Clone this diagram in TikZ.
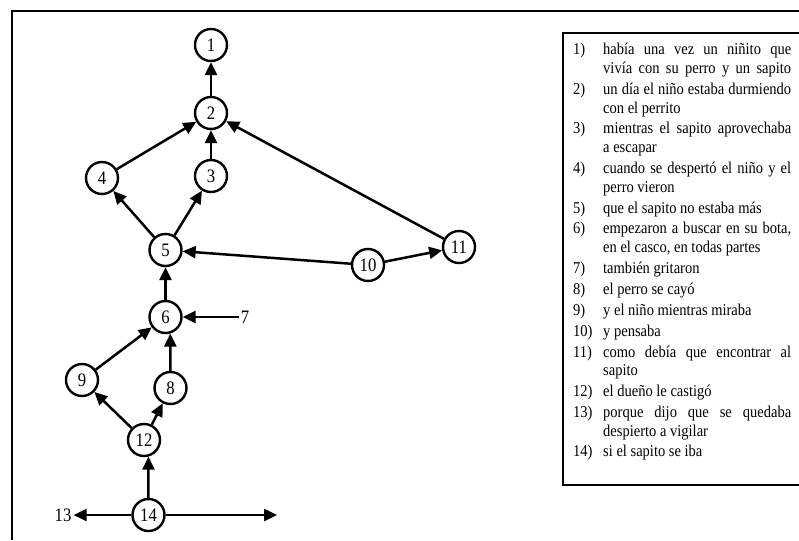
\documentclass[tikz,border=0pt]{standalone}
\usepackage{fontspec}
\setmainfont{Liberation Serif}
\newfontfamily\stretchfont[FakeStretch=0.88]{Liberation Serif}
\newfontfamily\legfont[FakeStretch=0.88]{Liberation Serif}
\usetikzlibrary{arrows.meta}
\newcommand{\jl}[1]{\makebox[188pt][s]{#1}}
\begin{document}
\begin{tikzpicture}[x=1pt,y=-1pt,
  st/.style={circle,draw,line width=2.4pt,minimum size=32pt,inner sep=0pt,font=\stretchfont\fontsize{19}{19}\selectfont},
  lbl/.style={inner sep=2pt,font=\stretchfont\fontsize{19}{19}\selectfont},
  arr/.style={line width=2.5pt,-{Triangle[length=13pt,width=12pt]}},
  frame/.style={line width=1.7pt},
  leg/.style={anchor=base west,inner sep=0pt,font=\legfont\fontsize{16.5}{16.5}\selectfont},
]
\useasboundingbox (0,0) rectangle (799,540);
% outer frame
\draw[frame] (799,11) -- (12,11) -- (12,540);
% legend box
\draw[frame] (799,33) -- (563,33) -- (563,485) -- (799,485);

% graph nodes
\node[st] (n1) at (211,45) {1};
\node[st] (n2) at (211,113) {2};
\node[st] (n3) at (211,176) {3};
\node[st] (n4) at (102,178) {4};
\node[st] (n5) at (165.5,250) {5};
\node[st] (n10) at (368,265) {10};
\node[st] (n11) at (459,247) {11};
\node[st] (n6) at (165.5,317) {6};
\node[lbl] (n7) at (245,317) {7};
\node[st] (n9) at (82,380) {9};
\node[st] (n8) at (170.5,388) {8};
\node[st] (n12) at (144,440) {12};
\node[st] (n14) at (148.5,515) {14};
\node[lbl] (n13) at (63,515) {13};
\coordinate (r) at (277,515);

% connectors
\draw[arr] (n2) -- (n1);
\draw[arr] (n3) -- (n2);
\draw[arr] (n4) -- (n2);
\draw[arr] (n5) -- (n4);
\draw[arr] (n5) -- (n3);
\draw[arr] (n10) -- (n5);
\draw[arr] (n10) -- (n11);
\draw[arr] (n11) -- (n2);
\draw[arr] (n6) -- (n5);
\draw[arr] (n7) -- (n6);
\draw[arr] (n9) -- (n6);
\draw[arr] (n8) -- (n6.-74);
\draw[arr] (n12) -- (n9);
\draw[arr] (n12) -- (n8);
\draw[arr] (n14) -- (n12.-75);
\draw[arr] (n14) -- (n13);
\draw[arr] (n14) -- (r);

% legend
\node[leg] (k1) at (573,55) {1)};
\node[leg] (t1a) at (603,55) {\jl{había una vez un niñito que}};
\node[leg] (t1b) at (603,73.6) {\jl{vivía con su perro y un sapito}};
\node[leg] (k2) at (573,94.5) {2)};
\node[leg] (t2a) at (603,94.5) {\jl{un día el niño estaba durmiendo}};
\node[leg] (t2b) at (603,113.1) {con el perrito};
\node[leg] (k3) at (573,134) {3)};
\node[leg] (t3a) at (603,134) {\jl{mientras el sapito aprovechaba}};
\node[leg] (t3b) at (603,152.6) {a escapar};
\node[leg] (k4) at (573,173.5) {4)};
\node[leg] (t4a) at (603,173.5) {\jl{cuando se despertó el niño y el}};
\node[leg] (t4b) at (603,192.1) {perro vieron};
\node[leg] (k5) at (573,213) {5)};
\node[leg] (t5) at (603,213) {que el sapito no estaba más};
\node[leg] (k6) at (573,233.9) {6)};
\node[leg] (t6a) at (603,233.9) {\jl{empezaron a buscar en su bota,}};
\node[leg] (t6b) at (603,252.5) {en el casco, en todas partes};
\node[leg] (k7) at (573,273.4) {7)};
\node[leg] (t7) at (603,273.4) {también gritaron};
\node[leg] (k8) at (573,294.3) {8)};
\node[leg] (t8) at (603,294.3) {el perro se cayó};
\node[leg] (k9) at (573,315.2) {9)};
\node[leg] (t9) at (603,315.2) {y el niño mientras miraba};
\node[leg] (k10) at (573,336.1) {10)};
\node[leg] (t10) at (603,336.1) {y pensaba};
\node[leg] (k11) at (573,357) {11)};
\node[leg] (t11a) at (603,357) {\jl{como debía que encontrar al}};
\node[leg] (t11b) at (603,375.6) {sapito};
\node[leg] (k12) at (573,396.5) {12)};
\node[leg] (t12) at (603,396.5) {el dueño le castigó};
\node[leg] (k13) at (573,417.4) {13)};
\node[leg] (t13a) at (603,417.4) {\jl{porque dijo que se quedaba}};
\node[leg] (t13b) at (603,436) {despierto a vigilar};
\node[leg] (k14) at (573,456.9) {14)};
\node[leg] (t14) at (603,456.9) {si el sapito se iba};
\end{tikzpicture}
\end{document}
